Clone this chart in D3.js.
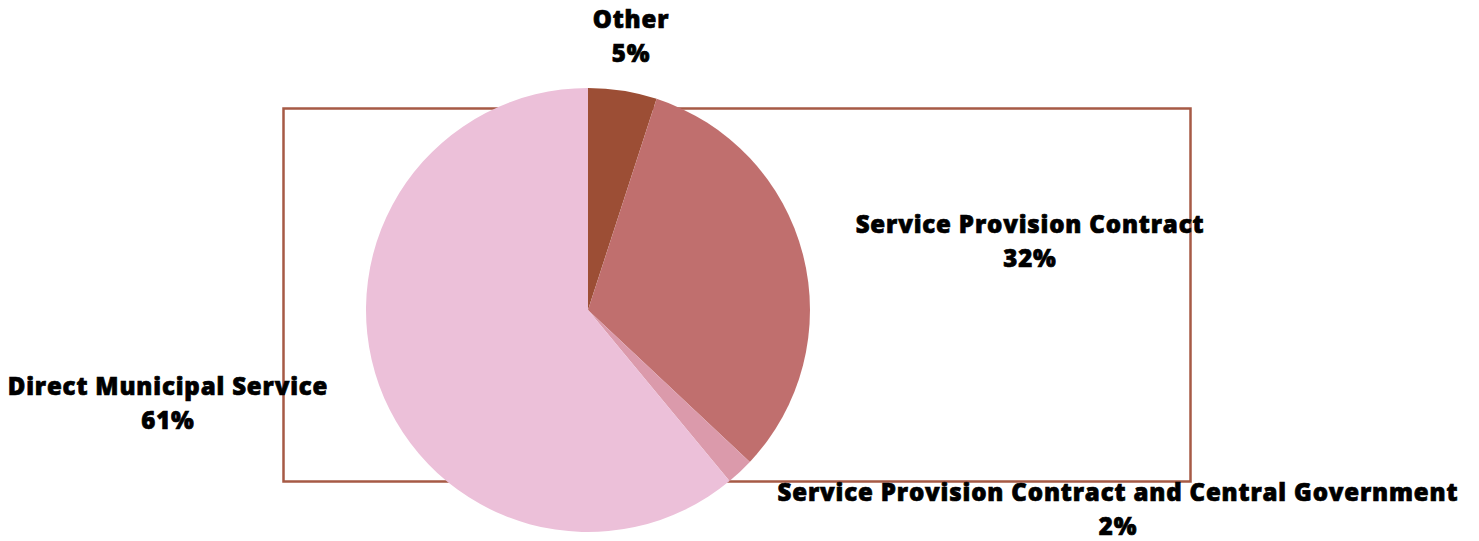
<!DOCTYPE html>
<html>
<head>
<meta charset="utf-8">
<script src="https://cdn.jsdelivr.net/npm/d3@7/dist/d3.min.js"></script>
<style>
  html, body { margin: 0; padding: 0; background: #fff; }
  svg { display: block; }
  .lbl { font-family: "Open Sans", sans-serif; font-weight: 800; font-size: 24px; fill: #000;
         stroke: #000; stroke-width: 0.7px; letter-spacing: 0.85px; }
</style>
</head>
<body>
<svg id="chart" width="1479" height="541"></svg>
<script>
// Share of service delivery arrangements
const categories = ["Other", "Service Provision Contract", "Service Provision Contract and Central Government", "Direct Municipal Service"];
const shares = [5, 32, 2, 61];
const percentLabels = ["5%", "32%", "2%", "61%"];
const sliceColors = ["#9c4e35", "#c06f6e", "#db9aab", "#ecc0d9"];

// label anchors (centre x, first baseline y)
const labelX = [631, 1030, 1118, 168];
const labelY = [28, 233, 501, 395];

const svg = d3.select("#chart");
const cx = 588, cy = 310, r = 222;

// plot-area frame behind the pie
svg.append("rect")
  .attr("x", 283.5).attr("y", 108.5)
  .attr("width", 907).attr("height", 373)
  .attr("fill", "none")
  .attr("stroke", "#a65a45")
  .attr("stroke-width", 2.5);

const pie = d3.pie().sort(null).value(d => d);
const arc = d3.arc().innerRadius(0).outerRadius(r);

svg.append("g")
  .attr("transform", `translate(${cx},${cy})`)
  .selectAll("path")
  .data(pie(shares))
  .join("path")
  .attr("d", arc)
  .attr("fill", (d, i) => sliceColors[i]);

const labels = svg.append("g");
categories.forEach((c, i) => {
  const t = labels.append("text")
    .attr("class", "lbl")
    .attr("text-anchor", "middle")
    .attr("x", labelX[i])
    .attr("y", labelY[i]);
  t.append("tspan").attr("x", labelX[i]).text(c);
  t.append("tspan").attr("x", labelX[i]).attr("dy", 34).text(percentLabels[i]);
});
</script>
</body>
</html>
